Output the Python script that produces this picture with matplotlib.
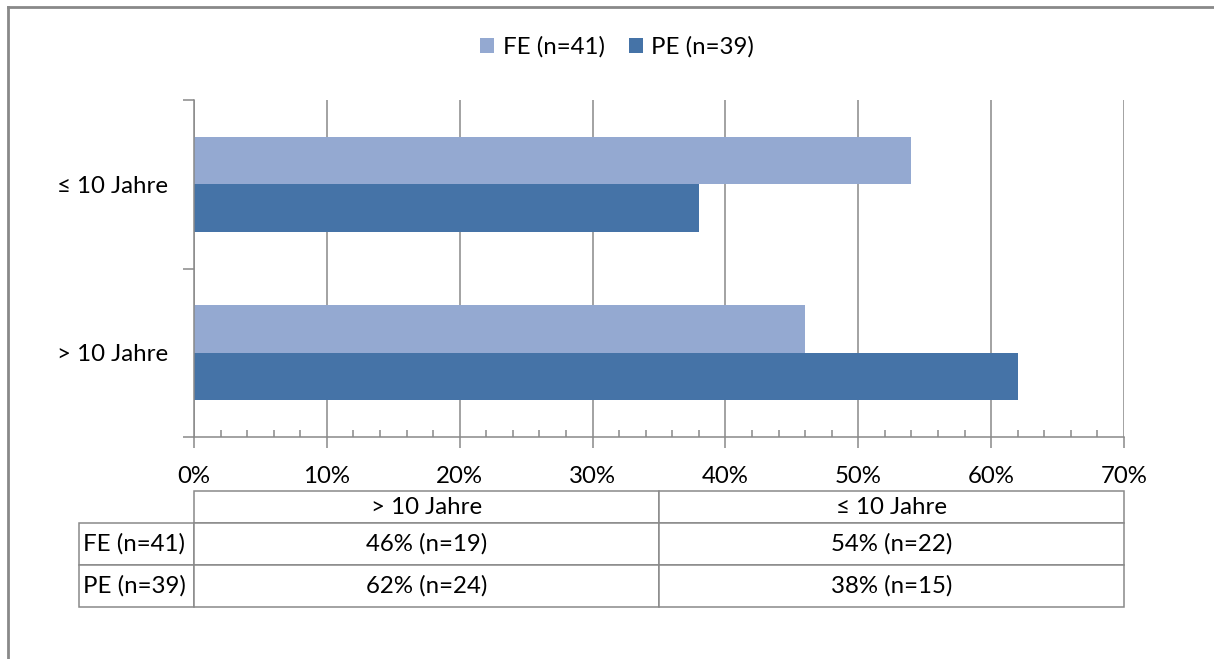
import numpy as np
import matplotlib
matplotlib.use('Agg')
import matplotlib.pyplot as plt
from matplotlib.lines import Line2D
from matplotlib.patches import Patch
from matplotlib.ticker import MultipleLocator, FuncFormatter

plt.rcParams['font.family'] = ['Lato', 'DejaVu Sans']

# data
categories = ['> 10 Jahre', '\u2264 10 Jahre']
groups = ['FE (n=41)', 'PE (n=39)']
fe_share = [46, 54]   # percent
pe_share = [62, 38]
fe_count = [19, 22]
pe_count = [24, 15]

fe_color = '#94A9D1'
pe_color = '#4573A7'
grey = '#898989'
fsize = 17.3

fig = plt.figure(figsize=(12.14, 6.59), dpi=100)
ax = fig.add_axes([194 / 1214, 1 - 437 / 659, 930 / 1214, 337 / 659])

y = np.arange(len(categories))
h = 0.283
ax.barh(y + h / 2, fe_share, height=h, color=fe_color, label=groups[0], zorder=3)
ax.barh(y - h / 2, pe_share, height=h, color=pe_color, label=groups[1], zorder=3)

ax.set_xlim(0, 70)
ax.set_ylim(-0.5, 1.5)

# x axis: major every 10 %, minor every 2 %
ax.xaxis.set_major_locator(MultipleLocator(10))
ax.xaxis.set_minor_locator(MultipleLocator(2))
ax.xaxis.set_major_formatter(FuncFormatter(lambda v, p: '%d%%' % v))
ax.tick_params(axis='x', which='major', direction='out', length=8, width=1.1,
               color=grey, labelsize=fsize, pad=13)
ax.tick_params(axis='x', which='minor', direction='in', length=5, width=1.1,
               color=grey)

# y axis: ticks at category boundaries, labels at centres
ax.set_yticks([-0.5, 0.5, 1.5])
ax.set_yticklabels([])
ax.set_yticks(y, minor=True)
ax.set_yticklabels(categories, minor=True)
ax.tick_params(axis='y', which='major', direction='out', length=8, width=1.1,
               color=grey)
ax.tick_params(axis='y', which='minor', length=0, labelsize=fsize, pad=18.5)

ax.grid(axis='x', which='major', color=grey, linewidth=1.1, zorder=0)
for s in ['top', 'right']:
    ax.spines[s].set_visible(False)
for s in ['left', 'bottom']:
    ax.spines[s].set_color(grey)
    ax.spines[s].set_linewidth(1.1)
    ax.spines[s].set_zorder(4)

# data table under the axis (first column holds the group names)
cell_text = [[g] + ['%d%% (n=%d)' % (p, n) for p, n in zip(share, count)]
             for g, share, count in zip(groups, [fe_share, pe_share], [fe_count, pe_count])]
lab_w = 115 / 930
tab = ax.table(cellText=cell_text, colLabels=[''] + categories,
               colWidths=[lab_w, 0.5, 0.5], cellLoc='center',
               bbox=[-lab_w, -(607 - 437) / 337, 1 + lab_w, (607 - 491) / 337])
tab.auto_set_font_size(False)
for (r, c), cell in tab.get_celld().items():
    cell.set_edgecolor(grey)
    cell.set_linewidth(1.1)
    cell.get_text().set_fontsize(fsize)
    cell.set_height(32 if r == 0 else 42)
    if c == 0:
        cell.get_text().set_horizontalalignment('left')
        cell.PAD = 0.035
tab[0, 0].visible_edges = ''

# legend
handles = [Patch(facecolor=fe_color, label=groups[0]),
           Patch(facecolor=pe_color, label=groups[1])]
fig.legend(handles=handles, loc='center', bbox_to_anchor=(617 / 1214, 1 - 47 / 659),
           ncol=2, frameon=False, fontsize=fsize, handlelength=0.6,
           handleheight=0.6, handletextpad=0.35, columnspacing=1.0)

# outer frame
fig.add_artist(Line2D([8 / 1214, 1.0], [1 - 7 / 659, 1 - 7 / 659],
                      transform=fig.transFigure, color=grey, linewidth=2))
fig.add_artist(Line2D([8 / 1214, 8 / 1214], [0.0, 1 - 7 / 659],
                      transform=fig.transFigure, color=grey, linewidth=2))

fig.savefig('out.png', dpi=100)
